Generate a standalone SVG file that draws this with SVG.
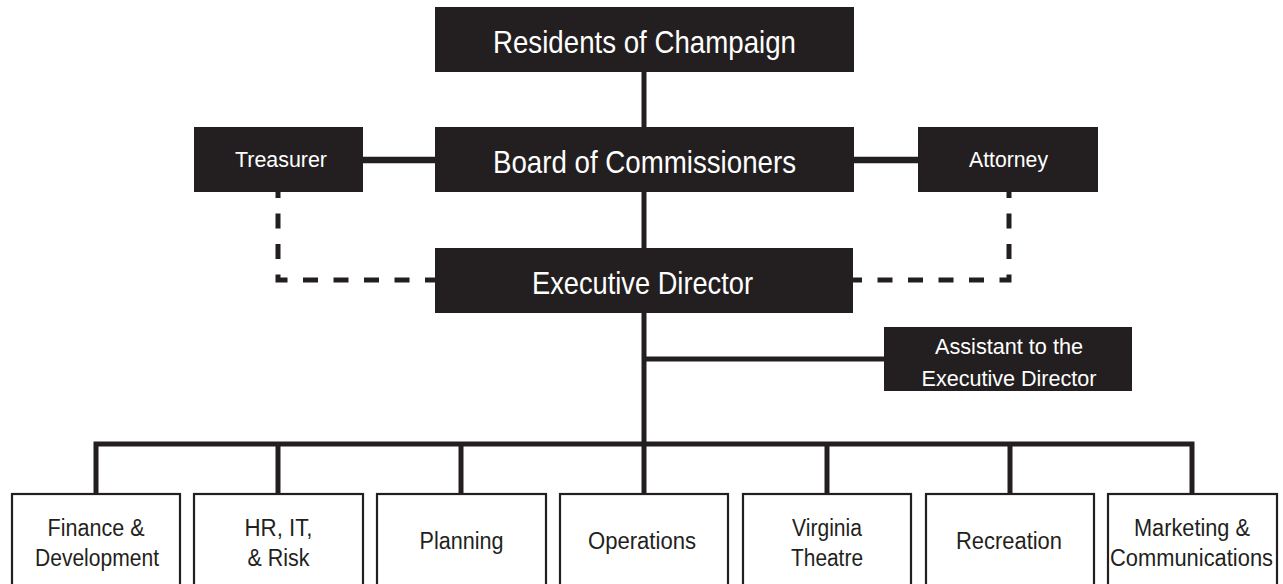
<svg xmlns="http://www.w3.org/2000/svg" width="1283" height="584" viewBox="0 0 1283 584">
  <style>
    .dark { fill: #231f20; }
    .unit { fill: #ffffff; stroke: #231f20; stroke-width: 2.2; }
    .big { font-family: "Liberation Sans", Arial, sans-serif; font-size: 32px; fill: #ffffff; text-anchor: middle; }
    .small { font-family: "Liberation Sans", Arial, sans-serif; font-size: 22px; fill: #ffffff; text-anchor: middle; }
    .label { font-family: "Liberation Sans", Arial, sans-serif; font-size: 23px; fill: #231f20; text-anchor: middle; }
    .line { fill: none; stroke: #231f20; stroke-width: 5; }
    .thick { fill: none; stroke: #231f20; stroke-width: 6.5; }
    .dash { fill: none; stroke: #231f20; stroke-width: 5; stroke-dasharray: 15 15.5; stroke-dashoffset: 9; }
  </style>

  <!-- connectors -->
  <g id="connectors">
    <path class="line" d="M644 72 V127"/>
    <path class="line" d="M644 192 V248"/>
    <path class="thick" d="M363 160 H435"/>
    <path class="thick" d="M854 160 H918"/>
    <path class="dash" d="M278 192 V280 H435"/>
    <path class="dash" d="M1009 192 V280 H853"/>
    <path class="line" d="M644 313 V444"/>
    <path class="line" d="M644 359 H884"/>
    <path class="line" d="M96 494 V444 H1192 V494"/>
    <path class="line" d="M278 444 V494"/>
    <path class="line" d="M461 444 V494"/>
    <path class="line" d="M644 444 V494"/>
    <path class="line" d="M827 444 V494"/>
    <path class="line" d="M1010 444 V494"/>
  </g>

  <!-- governance -->
  <g id="residents">
    <rect class="dark" x="435" y="7" width="419" height="65"/>
    <text class="big" x="644.5" y="53" textLength="303" lengthAdjust="spacingAndGlyphs">Residents of Champaign</text>
  </g>
  <g id="board">
    <rect class="dark" x="435" y="127" width="419" height="65"/>
    <text class="big" x="644.5" y="173" textLength="303" lengthAdjust="spacingAndGlyphs">Board of Commissioners</text>
  </g>
  <g id="treasurer">
    <rect class="dark" x="194" y="127" width="169" height="65"/>
    <text class="small" x="281" y="167" textLength="92" lengthAdjust="spacingAndGlyphs">Treasurer</text>
  </g>
  <g id="attorney">
    <rect class="dark" x="918" y="127" width="180" height="65"/>
    <text class="small" x="1008.5" y="167" textLength="79" lengthAdjust="spacingAndGlyphs">Attorney</text>
  </g>
  <g id="executive-director">
    <rect class="dark" x="435" y="248" width="418" height="65"/>
    <text class="big" x="642.5" y="294" textLength="221" lengthAdjust="spacingAndGlyphs">Executive Director</text>
  </g>
  <g id="assistant">
    <rect class="dark" x="884" y="327" width="248" height="64"/>
    <text class="small" x="1009" y="354" textLength="148" lengthAdjust="spacingAndGlyphs">Assistant to the</text>
    <text class="small" x="1009" y="386" textLength="175" lengthAdjust="spacingAndGlyphs">Executive Director</text>
  </g>

  <!-- departments -->
  <g id="finance">
    <rect class="unit" x="12" y="494" width="168" height="100"/>
    <text class="label" x="96" y="536" textLength="97" lengthAdjust="spacingAndGlyphs">Finance &amp;</text>
    <text class="label" x="97" y="566" textLength="124" lengthAdjust="spacingAndGlyphs">Development</text>
  </g>
  <g id="hr-it-risk">
    <rect class="unit" x="194" y="494" width="169" height="100"/>
    <text class="label" x="278.5" y="536" textLength="68" lengthAdjust="spacingAndGlyphs">HR, IT,</text>
    <text class="label" x="278.5" y="566" textLength="62" lengthAdjust="spacingAndGlyphs">&amp; Risk</text>
  </g>
  <g id="planning">
    <rect class="unit" x="377" y="494" width="169" height="100"/>
    <text class="label" x="461.5" y="549" textLength="84" lengthAdjust="spacingAndGlyphs">Planning</text>
  </g>
  <g id="operations">
    <rect class="unit" x="560" y="494" width="168" height="100"/>
    <text class="label" x="642" y="549" textLength="108" lengthAdjust="spacingAndGlyphs">Operations</text>
  </g>
  <g id="virginia-theatre">
    <rect class="unit" x="743" y="494" width="168" height="100"/>
    <text class="label" x="827" y="536" textLength="70" lengthAdjust="spacingAndGlyphs">Virginia</text>
    <text class="label" x="827" y="566" textLength="72" lengthAdjust="spacingAndGlyphs">Theatre</text>
  </g>
  <g id="recreation">
    <rect class="unit" x="926" y="494" width="168" height="100"/>
    <text class="label" x="1009" y="549" textLength="106" lengthAdjust="spacingAndGlyphs">Recreation</text>
  </g>
  <g id="marketing">
    <rect class="unit" x="1108" y="494" width="169" height="100"/>
    <text class="label" x="1192" y="536" textLength="116" lengthAdjust="spacingAndGlyphs">Marketing &amp;</text>
    <text class="label" x="1191.5" y="566" textLength="163" lengthAdjust="spacingAndGlyphs">Communications</text>
  </g>
</svg>
